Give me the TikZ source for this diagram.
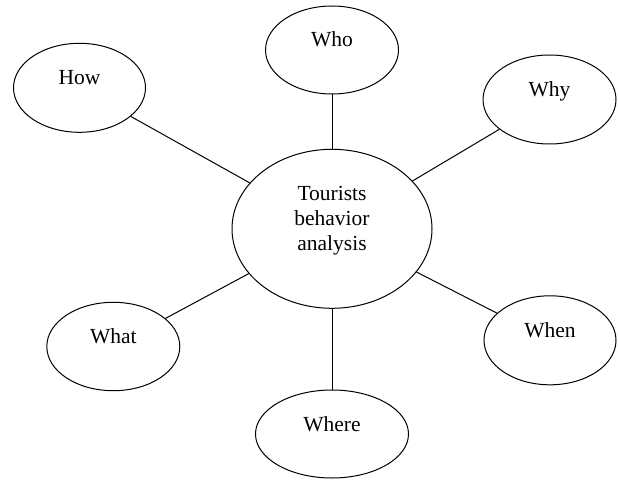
\documentclass[tikz,border=0pt]{standalone}
\usepackage{fontspec}
\setmainfont{Liberation Serif}
\usetikzlibrary{shapes.geometric}
\begin{document}
\begin{tikzpicture}[x=1pt,y=-1pt,
  bub/.style 2 args={draw=black, ellipse, line width=1pt, inner sep=0pt, minimum width=#1, minimum height=#2},
  txt/.style={inner sep=0pt, anchor=base, align=center, font=\fontsize{21.5}{24.6}\selectfont},
  link/.style={draw=black, line width=1pt}]
\fill[white] (0,0) rectangle (618,481);
\useasboundingbox (0,0) rectangle (618,481);
% ellipses
\node[bub={200pt}{159pt}] (main) at (332,228.8) {};
\node[bub={132pt}{89pt}] (how) at (79.5,87.8) {};
\node[bub={133pt}{88pt}] (who) at (332,50) {};
\node[bub={133pt}{89pt}] (why) at (549.5,99.5) {};
\node[bub={133pt}{88.4pt}] (what) at (113.3,346.5) {};
\node[bub={132pt}{89pt}] (when) at (550,340.3) {};
\node[bub={153pt}{88pt}] (where) at (332,434) {};
% texts
\node[txt] (maint) at (332,250) {Tourists\\behavior\\analysis};
\node[txt] (howt) at (79.5,84.8) {How};
\node[txt] (whot) at (332,47) {Who};
\node[txt] (whyt) at (549.5,96.5) {Why};
\node[txt] (whatt) at (113.3,343.5) {What};
\node[txt] (whent) at (550,337.3) {When};
\node[txt] (wheret) at (332,431.3) {Where};
% connectors
\draw[link] (how) -- (main);
\draw[link] (who) -- (main);
\draw[link] (why) -- (main);
\draw[link] (what) -- (main);
\draw[link] (when) -- (main);
\draw[link] (where) -- (main);
\end{tikzpicture}
\end{document}
